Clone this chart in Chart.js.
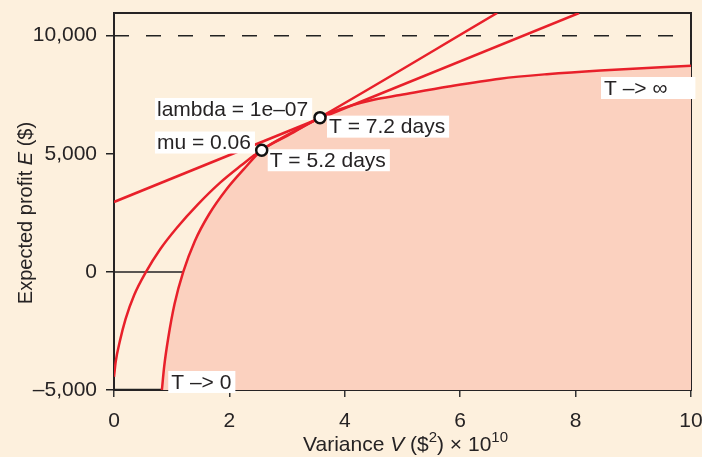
<!DOCTYPE html>
<html>
<head>
<meta charset="utf-8">
<script src="https://cdn.jsdelivr.net/npm/chart.js@4.4.0/dist/chart.umd.min.js"></script>
<style>
  html, body { margin: 0; padding: 0; background: #fdf0dd; }
</style>
</head>
<body>
<canvas id="ctxProfit" width="702" height="457"></canvas>
<script>
// T -> 0 boundary, then T -> inf boundary (edge of the shaded region)
const t0V = [0.83, 0.87, 0.94, 1.05, 1.2, 1.4, 1.65, 1.95, 2.25, 2.56, 3.0, 3.57];
const t0E = [-5000, -4000, -2800, -1350, 0, 1300, 2450, 3500, 4350, 5150, 5760, 6530];
const tInfV = [3.57, 3.8, 4.09, 4.5, 4.96, 5.8, 6.69, 7.5, 8.43, 10];
const tInfE = [6530, 6780, 7030, 7290, 7490, 7850, 8180, 8370, 8530, 8730];
// curve from the y axis through both marked points
const bV = [0, 0.03, 0.1, 0.2, 0.35, 0.555, 0.8, 1.09, 1.45, 1.84, 2.2, 2.56, 3.57, 6.64];
const bE = [-4440, -3800, -2950, -2000, -980, 0, 960, 1870, 2850, 3780, 4500, 5170, 6540, 10960];
// straight line
const cV = [0, 8.06];
const cE = [2960, 10960];
// marked points (T = 5.2 days, T = 7.2 days)
const ptV = [2.56, 3.57];
const ptE = [5150, 6530];
// reference levels
const capV = [0, 10];
const capE = [10000, 10000];
const zeroV = [0, 1.2];
const zeroE = [0, 0];
const floorV = [0, 0.83];
const floorE = [-5000, -5000];

const xTickVals = [0, 2, 4, 6, 8, 10];
const yTickVals = [-5000, 0, 5000, 10000];
const noteText = ['lambda = 1e\u201307', 'mu = 0.06', 'T = 7.2 days', 'T = 5.2 days', 'T \u2013> \u221e', 'T \u2013> 0'];

const FONT = '"Liberation Sans", Arial, sans-serif';
const INK = '#262324';
const RED = '#e8202a';

const pts = (xs, ys) => xs.map((x, i) => ({ x: x, y: ys[i] }));

const bgPlugin = {
  id: 'bg',
  beforeDraw(chart) {
    const ctx = chart.ctx;
    ctx.save();
    ctx.fillStyle = '#fdf0dd';
    ctx.fillRect(0, 0, chart.width, chart.height);
    ctx.restore();
  },
  beforeDatasetsDraw(chart) {
    const a = chart.chartArea, ctx = chart.ctx;
    ctx.save();
    ctx.strokeStyle = INK;
    ctx.lineWidth = 2;
    ctx.strokeRect(a.left, a.top, a.right - a.left, a.bottom - a.top);
    ctx.restore();
  }
};

function note(ctx, text, left, cy, padL, padR) {
  ctx.font = '21px ' + FONT;
  const w = ctx.measureText(text).width;
  ctx.fillStyle = '#ffffff';
  ctx.fillRect(left, cy - 11, w + padL + padR, 22);
  ctx.fillStyle = INK;
  ctx.textBaseline = 'middle';
  ctx.textAlign = 'left';
  ctx.fillText(text, left + padL, cy + 1);
}

const notesPlugin = {
  id: 'notes',
  beforeDatasetDraw(chart, args) {
    if (args.index !== 0) return;
    const x = chart.scales.x, y = chart.scales.y, ctx = chart.ctx;
    ctx.save();
    note(ctx, noteText[0], x.getPixelForValue(0.71), y.getPixelForValue(6896), 2, 4);
    note(ctx, noteText[1], x.getPixelForValue(0.71), y.getPixelForValue(5477), 2, 4);
    note(ctx, noteText[2], x.getPixelForValue(ptV[1]) + 7, y.getPixelForValue(ptE[1]) + 9, 2, 4);
    note(ctx, noteText[3], x.getPixelForValue(ptV[0]) + 6, y.getPixelForValue(ptE[0]) + 10, 2, 4);
    note(ctx, noteText[4], x.getPixelForValue(8.44), y.getPixelForValue(7785), 3, 28);
    note(ctx, noteText[5], x.getPixelForValue(0.94), y.getPixelForValue(-4660), 3, 4);
    ctx.restore();
  }
};

function measureRuns(ctx, runs, size) {
  let w = 0;
  runs.forEach(r => {
    ctx.font = (r.it ? 'italic ' : '') + (r.sup ? Math.round(size * 0.7) : size) + 'px ' + FONT;
    w += ctx.measureText(r.t).width;
  });
  return w;
}

function paintRuns(ctx, runs, size, x0, base) {
  let x = x0;
  runs.forEach(r => {
    ctx.font = (r.it ? 'italic ' : '') + (r.sup ? Math.round(size * 0.7) : size) + 'px ' + FONT;
    ctx.fillText(r.t, x, r.sup ? base - size * 0.42 : base);
    x += ctx.measureText(r.t).width;
  });
}

const titlePlugin = {
  id: 'titles',
  afterDraw(chart) {
    const ctx = chart.ctx, a = chart.chartArea;
    ctx.save();
    ctx.fillStyle = INK;
    ctx.textBaseline = 'alphabetic';
    ctx.textAlign = 'left';
    const xRuns = [{ t: 'Variance ' }, { t: 'V', it: true }, { t: ' ($' }, { t: '2', sup: true }, { t: ') \u00d7 10' }, { t: '10', sup: true }];
    const xs = 21;
    const xw = measureRuns(ctx, xRuns, xs);
    paintRuns(ctx, xRuns, xs, (a.left + a.right) / 2 + 3 - xw / 2, 451);
    const yRuns = [{ t: 'Expected profit ' }, { t: 'E', it: true }, { t: ' ($)' }];
    const ys = 20;
    const yw = measureRuns(ctx, yRuns, ys);
    ctx.translate(32, 213);
    ctx.rotate(-Math.PI / 2);
    paintRuns(ctx, yRuns, ys, -yw / 2, 0);
    ctx.restore();
  }
};

new Chart(document.getElementById('ctxProfit').getContext('2d'), {
  type: 'line',
  data: {
    datasets: [
      {
        label: 'marked',
        data: pts(ptV, ptE),
        showLine: false,
        pointRadius: 5.5,
        pointBorderWidth: 2.5,
        pointBorderColor: '#111',
        pointBackgroundColor: '#ffffff',
        order: 0
      },
      {
        label: 'line',
        data: pts(cV, cE),
        borderColor: RED, borderWidth: 2.5, pointRadius: 0,
        order: 2
      },
      {
        label: 'curve',
        data: pts(bV, bE),
        borderColor: RED, borderWidth: 2.5, pointRadius: 0,
        cubicInterpolationMode: 'monotone',
        order: 3
      },
      {
        label: 'envelope',
        data: pts(t0V.concat(tInfV.slice(1)), t0E.concat(tInfE.slice(1))),
        borderColor: RED, borderWidth: 2.5, pointRadius: 0,
        cubicInterpolationMode: 'monotone',
        fill: 'start',
        backgroundColor: '#fbd1bf',
        order: 6
      },
      {
        label: 'cap',
        data: pts(capV, capE),
        borderColor: '#222', borderWidth: 1.5, borderDash: [15, 17], pointRadius: 0,
        order: 7
      },
      {
        label: 'zero',
        data: pts(zeroV, zeroE),
        borderColor: '#222', borderWidth: 1.5, pointRadius: 0,
        order: 8
      },
      {
        label: 'floor',
        data: pts(floorV, floorE),
        borderColor: '#222', borderWidth: 2.5, pointRadius: 0,
        order: 8
      }
    ]
  },
  options: {
    responsive: false,
    animation: false,
    devicePixelRatio: 1,
    layout: { padding: { left: 0, right: 11, top: 13, bottom: 0 } },
    plugins: { legend: { display: false }, tooltip: { enabled: false } },
    scales: {
      x: {
        type: 'linear', min: 0, max: 10,
        afterBuildTicks: s => { s.ticks = xTickVals.map(v => ({ value: v })); },
        afterFit: s => { s.height = 67; s.paddingLeft = 0; s.paddingRight = 0; },
        grid: { drawOnChartArea: false, tickLength: 7, color: '#333', lineWidth: 1.5 },
        border: { display: false },
        ticks: { font: { family: FONT, size: 21 }, color: INK, padding: 12, maxRotation: 0 }
      },
      y: {
        type: 'linear', min: -5000, max: 10960,
        afterBuildTicks: s => { s.ticks = yTickVals.map(v => ({ value: v })); },
        afterFit: s => { s.width = 114; s.paddingTop = 0; s.paddingBottom = 0; },
        grid: { drawOnChartArea: false, tickLength: 8, color: '#222', lineWidth: 1.5 },
        border: { display: false },
        ticks: {
          font: { family: FONT, size: 21 }, color: INK, padding: 9,
          callback: v => (v < 0 ? '\u2013' : '') + Math.abs(v).toLocaleString('en-US')
        }
      }
    }
  },
  plugins: [bgPlugin, notesPlugin, titlePlugin]
});
</script>
</body>
</html>
